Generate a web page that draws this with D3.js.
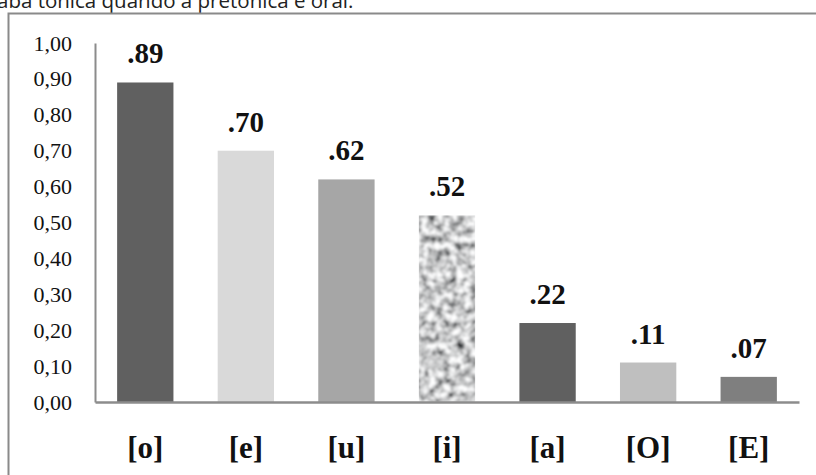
<!DOCTYPE html>
<html>
<head>
<meta charset="utf-8">
<script src="https://cdn.jsdelivr.net/npm/d3@7"></script>
<style>
  html, body { margin: 0; padding: 0; background: #fff; }
  svg { display: block; }
</style>
</head>
<body>
<script>
// Vowel categories and their proportions
const categories = ["[o]", "[e]", "[u]", "[i]", "[a]", "[O]", "[E]"];
const values = [0.89, 0.70, 0.62, 0.52, 0.22, 0.11, 0.07];
const valueLabels = [".89", ".70", ".62", ".52", ".22", ".11", ".07"];
const yTicks = [0, 0.1, 0.2, 0.3, 0.4, 0.5, 0.6, 0.7, 0.8, 0.9, 1.0];
const barFills = ["#606060", "#d9d9d9", "#a6a6a6", "#a0a0a0", "#606060", "#bfbfbf", "#7f7f7f"];
const texturedBar = "[i]";
const caption = "aba tônica quando a pretônica é oral.";

const W = 816, H = 475;
const svg = d3.select("body").append("svg").attr("width", W).attr("height", H);

// Granite texture used on the [i] bar
const defs = svg.append("defs");
const f = defs.append("filter").attr("id", "granite")
  .attr("x", 0).attr("y", 0).attr("width", 1).attr("height", 1);
f.append("feTurbulence").attr("type", "fractalNoise")
  .attr("baseFrequency", 0.14).attr("numOctaves", 3).attr("seed", 11).attr("result", "n");
f.append("feColorMatrix").attr("in", "n").attr("type", "matrix")
  .attr("values", "1.8 0 0 0 -0.3  1.8 0 0 0 -0.295  1.8 0 0 0 -0.29  0 0 0 0 1")
  .attr("result", "g");
f.append("feGaussianBlur").attr("in", "g").attr("stdDeviation", 0.8).attr("result", "b");
f.append("feComposite").attr("in", "b").attr("in2", "SourceGraphic").attr("operator", "in");

// Caption line above the frame
svg.append("text")
  .attr("x", -3).attr("y", 7.5)
  .attr("font-family", "'Open Sans', sans-serif")
  .attr("font-size", 20.5).attr("fill", "#222")
  .text(caption);

// Chart frame
svg.append("path")
  .attr("d", `M8.5,${H} L8.5,13.5 L${W},13.5`)
  .attr("fill", "none").attr("stroke", "#8a8a8a").attr("stroke-width", 2);

const x = d3.scaleBand().domain(categories).range([95, 799])
  .paddingInner(0.44).paddingOuter(0.22);
const y = d3.scaleLinear().domain([0, 1]).range([402, 43]);

// Bars
svg.append("g").selectAll("rect").data(categories).join("rect")
  .attr("x", d => x(d))
  .attr("width", x.bandwidth())
  .attr("y", (d, i) => y(values[i]))
  .attr("height", (d, i) => y(0) - y(values[i]))
  .attr("fill", (d, i) => barFills[i])
  .attr("filter", d => d === texturedBar ? "url(#granite)" : null);

// Y axis (labels only, no tick marks)
const yAxis = d3.axisLeft(y).tickValues(yTicks)
  .tickFormat(d => d3.format(".2f")(d).replace(".", ","))
  .tickSize(0).tickPadding(23);
const gy = svg.append("g").attr("transform", "translate(95,0)").call(yAxis);
gy.select(".domain").attr("stroke", "#8c8c8c").attr("stroke-width", 2);
gy.selectAll("text")
  .attr("font-family", "'Liberation Serif', 'Times New Roman', serif")
  .attr("font-size", 22).attr("fill", "#111");

// X axis baseline and category labels
const xAxis = d3.axisBottom(x).tickSize(0).tickPadding(34);
const gx = svg.append("g").attr("transform", "translate(0,402)").call(xAxis);
gx.select(".domain").attr("stroke", "#8c8c8c").attr("stroke-width", 2.5);
gx.selectAll("text")
  .attr("font-family", "'Liberation Serif', 'Times New Roman', serif")
  .attr("font-weight", "bold").attr("font-size", 31).attr("fill", "#111");

// Value labels above bars
svg.append("g").selectAll("text").data(categories).join("text")
  .attr("x", d => x(d) + x.bandwidth() / 2)
  .attr("y", (d, i) => y(values[i]) - 19)
  .attr("text-anchor", "middle")
  .attr("font-family", "'Liberation Serif', 'Times New Roman', serif")
  .attr("font-weight", "bold").attr("font-size", 29).attr("fill", "#111")
  .text((d, i) => valueLabels[i]);
</script>
</body>
</html>
